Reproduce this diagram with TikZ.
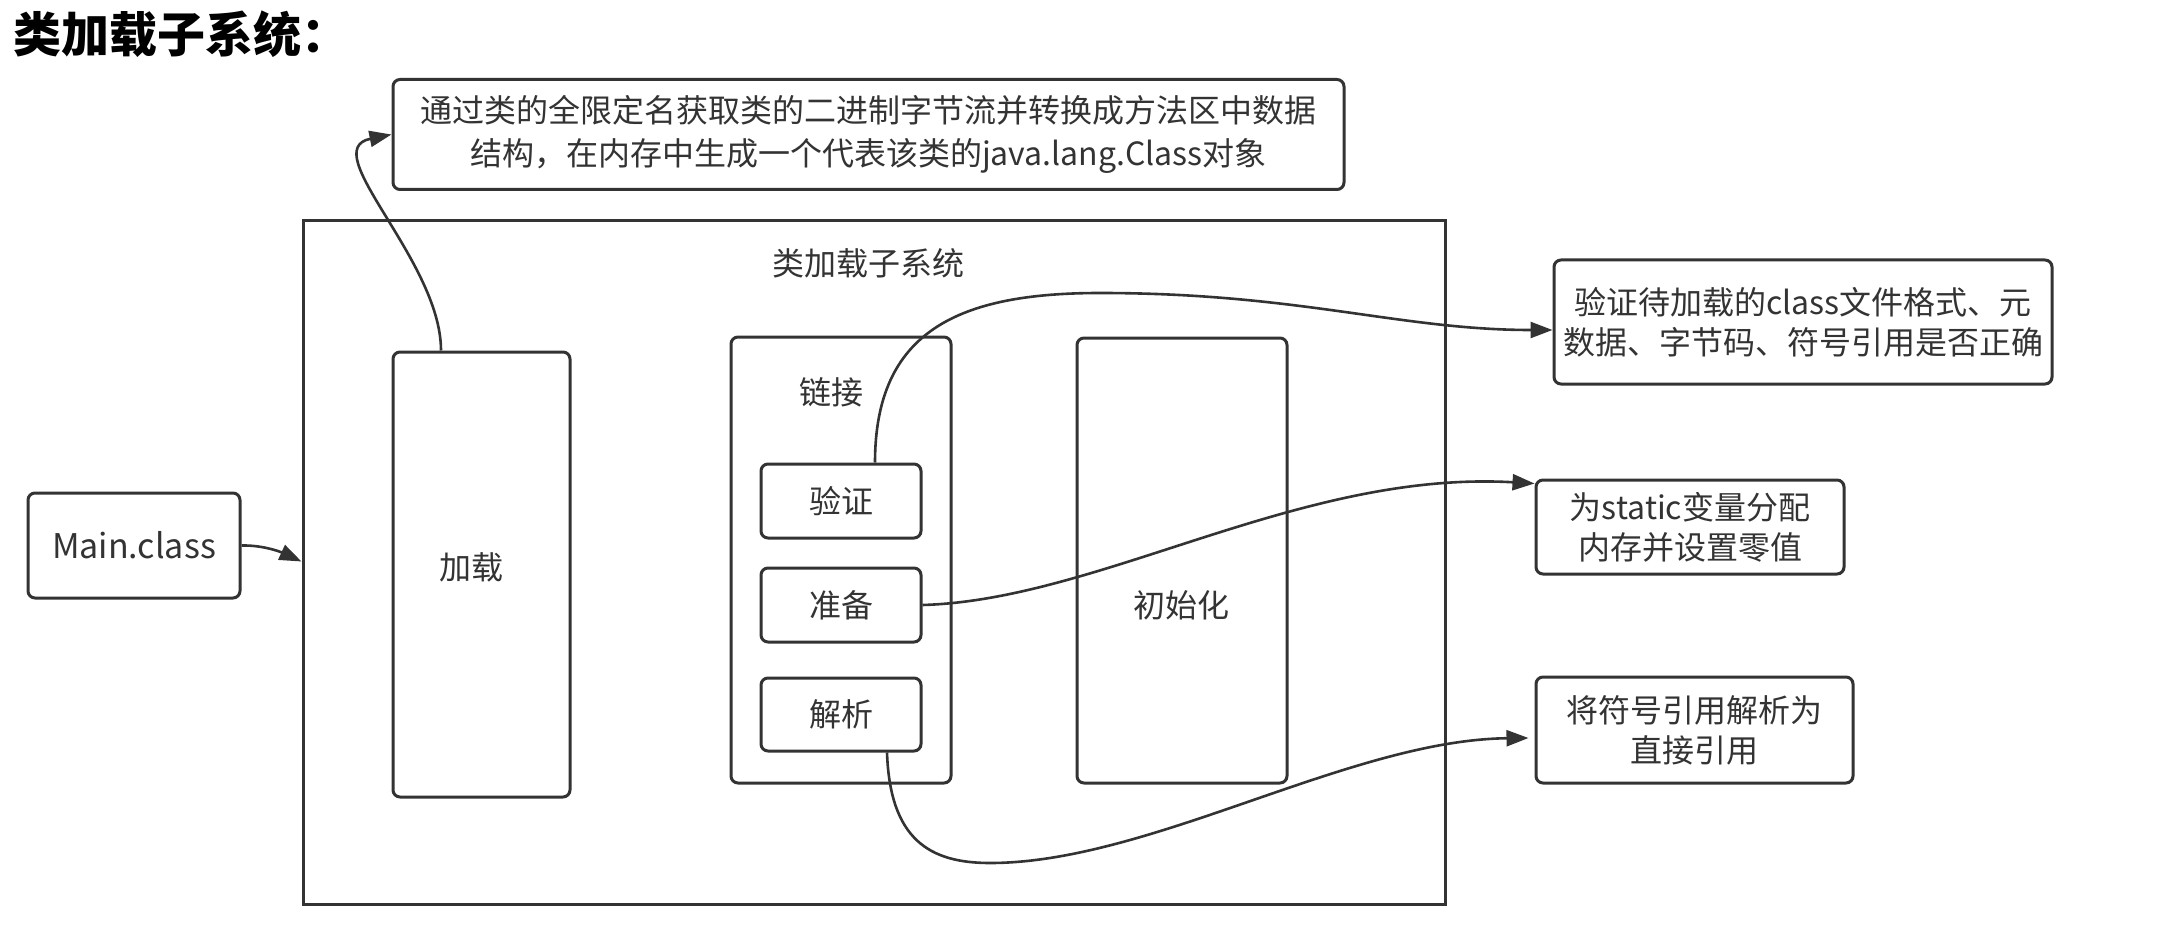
\documentclass[tikz,border=0pt]{standalone}
\usepackage{fontspec}
\setmainfont{Noto Sans CJK SC}
\usetikzlibrary{arrows.meta}
\definecolor{ink}{HTML}{333333}
\tikzset{
  txt/.style={font=\fontsize{32pt}{40pt}\selectfont, text=ink, align=center, inner sep=0pt},
  rbox/.style={txt, draw=ink, line width=3pt, rounded corners=7pt, fill=white},
  conn/.style={draw=ink, line width=2.6pt, -{Triangle[length=22pt,width=16pt]}},
}
\begin{document}
\begin{tikzpicture}[x=1pt,y=-1pt]
\useasboundingbox (0,0) rectangle (2170,933);
% title
\node[anchor=west, inner sep=0pt, font=\fontsize{48pt}{54pt}\selectfont\bfseries] (title) at (13,34) {类加载子系统：};
% top description box
\node[rbox, minimum width=951pt, minimum height=110pt, font=\fontsize{32pt}{43pt}\selectfont] (top) at (868.5,134.5)
  {通过类的全限定名获取类的二进制字节流并转换成方法区中数据\\结构，在内存中生成一个代表该类的java.lang.Class对象};
% outer system box
\node[draw=ink, line width=3pt, fill=white, minimum width=1142pt, minimum height=683pt, inner sep=0pt] (outer) at (874,562.5) {};
\node[txt] (outerlabel) at (868,263) {类加载子系统};
% inner boxes
\node[rbox, minimum width=177pt, minimum height=445pt] (jiazai) at (481.5,574.5) {};
\node[txt] (jiazailabel) at (471,567) {加载};
\node[rbox, minimum width=220pt, minimum height=446pt] (lianjie) at (841,560) {};
\node[txt] (lianjielabel) at (831,392) {链接};
\node[rbox, minimum width=160pt, minimum height=74pt] (yanzheng) at (841,501) {验证};
\node[rbox, minimum width=160pt, minimum height=74pt] (zhunbei) at (841,605) {准备};
\node[rbox, minimum width=160pt, minimum height=73pt] (jiexi) at (841,714.5) {解析};
\node[rbox, minimum width=210pt, minimum height=445pt] (chushihua) at (1182,560.5) {};
\node[txt] (chushihualabel) at (1181,605) {初始化};
% left input
\node[rbox, minimum width=212pt, minimum height=105pt, font=\fontsize{34pt}{40pt}\selectfont] (mainclass) at (134,545.5) {Main.class};
% right description boxes
\node[rbox, minimum width=498pt, minimum height=124pt] (box1) at (1803,322)
  {验证待加载的class文件格式、元\\数据、字节码、符号引用是否正确};
\node[rbox, minimum width=308pt, minimum height=94pt] (box2) at (1690,527)
  {为static变量分配\\内存并设置零值};
\node[rbox, minimum width=317pt, minimum height=106pt] (box3) at (1694.5,730)
  {将符号引用解析为\\直接引用};
% connectors
\draw[conn] (mainclass.east) .. controls (265,545) and (283,553) .. ([yshift=1pt]outer.west);
\draw[conn] ([xshift=-40.5pt]jiazai.north) .. controls (441,260) and (315,150) .. (top.west);
\draw[conn] ([xshift=34pt]yanzheng.north) .. controls (875,330) and (960,293) .. (1100,293)
  .. controls (1300,293) and (1400,330) .. ([yshift=-8pt]box1.west);
\draw[conn] (zhunbei.east) .. controls (1100,600) and (1300,470) .. ([yshift=-5pt]box2.north west);
\draw[conn] ([xshift=46pt]jiexi.south) .. controls (890,840) and (930,863) .. (990,863)
  .. controls (1150,863) and (1350,740) .. ([xshift=-6pt,yshift=-8pt]box3.west);
\end{tikzpicture}
\end{document}
